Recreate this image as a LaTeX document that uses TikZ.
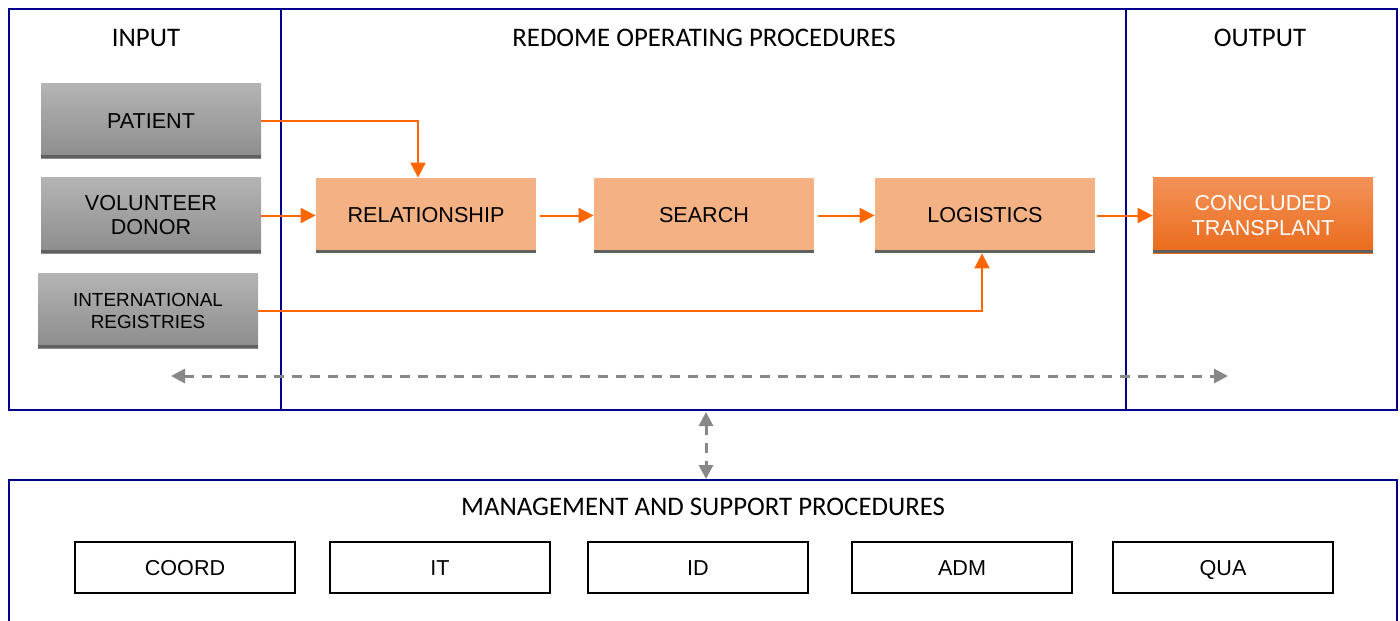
\documentclass[tikz,border=0pt]{standalone}
\usepackage{fontspec}
\setmainfont{Liberation Sans}
\newfontfamily\titlefont{Carlito}
\usetikzlibrary{arrows.meta}
\definecolor{navy}{RGB}{0,0,140}
\definecolor{orng}{RGB}{255,102,0}
\definecolor{lorng}{RGB}{244,177,131}
\definecolor{strip}{RGB}{96,96,96}
\definecolor{gtop}{RGB}{180,180,180}
\definecolor{gbot}{RGB}{140,140,140}
\definecolor{ctop}{RGB}{243,146,87}
\definecolor{cbot}{RGB}{234,107,28}
\definecolor{dgray}{RGB}{136,136,136}
\tikzset{
  basebox/.style={minimum width=110pt, minimum height=37.5pt, inner sep=0pt, align=center,
    font=\fontsize{10.8}{12}\selectfont,
    path picture={\fill[strip] (path picture bounding box.south west) rectangle ([yshift=1.6pt]path picture bounding box.south east);}},
  graybox/.style={basebox, top color=gtop, bottom color=gbot},
  procbox/.style={basebox, fill=lorng},
  outbox/.style={basebox, top color=ctop, bottom color=cbot, text=white},
  supbox/.style={draw=black, line width=1pt, minimum width=110pt, minimum height=25.5pt, inner sep=0pt, text height=7.8pt, text depth=0pt, font=\fontsize{10.8}{12}\selectfont},
  frame/.style={draw=navy, line width=1.35pt},
  title/.style={font=\titlefont\fontsize{13.4}{15}\selectfont},
  oarrow/.style={draw=orng, line width=1pt, -{Triangle[length=7.5pt,width=7.5pt]}},
  garrow/.style={draw=dgray, line width=1.5pt, dash pattern=on 5pt off 4pt, {Triangle[length=7pt,width=7pt]}-{Triangle[length=7pt,width=7pt]}}
}
\begin{document}
\begin{tikzpicture}[x=0.5pt,y=-0.5pt]
\useasboundingbox (0,0) rectangle (1400,620);
% frames
\draw[frame] (9,9) rectangle (1397,410);
\draw[frame] (281,9) -- (281,410);
\draw[frame] (1126,9) -- (1126,410);
\draw[frame] (9,480) rectangle (1397,660);
% titles
\node[title] (tin) at (146,38) {INPUT};
\node[title] (tproc) at (704,38) {REDOME OPERATING PROCEDURES};
\node[title] (tout) at (1260,38) {OUTPUT};
\node[title] (tsup) at (703,507) {MANAGEMENT AND SUPPORT PROCEDURES};
% input boxes
\node[graybox] (pat) at (151,121) {PATIENT};
\node[graybox, font=\fontsize{10.8}{12}\selectfont] (vol) at (151,215.5) {VOLUNTEER\\DONOR};
\node[graybox, font=\fontsize{9.45}{11}\selectfont] (int) at (148,310.5) {INTERNATIONAL\\REGISTRIES};
% process boxes
\node[procbox] (rel) at (426,215.5) {RELATIONSHIP};
\node[procbox] (sea) at (704,215.5) {SEARCH};
\node[procbox] (log) at (985,215.5) {LOGISTICS};
\node[outbox, font=\fontsize{10.8}{12.5}\selectfont] (con) at (1263,215.5) {CONCLUDED\\TRANSPLANT};
% support boxes
\node[supbox] (coord) at (185,567.5) {COORD};
\node[supbox] (it) at (440,567.5) {IT};
\node[supbox] (id) at (698,567.5) {ID};
\node[supbox] (adm) at (962,567.5) {ADM};
\node[supbox] (qua) at (1223,567.5) {QUA};
% arrows
\draw[oarrow] (pat.east) -| ([xshift=-4pt]rel.north);
\draw[oarrow] (vol.east) -- (rel.west);
\draw[oarrow] ([xshift=2pt]rel.east) -- (sea.west);
\draw[oarrow] ([xshift=2pt]sea.east) -- (log.west);
\draw[oarrow] ([xshift=1pt]log.east) -- (con.west);
\draw[oarrow] (int.east) -| ([xshift=-1.5pt]log.south);
% dashed
\coordinate (dl) at (171,376);
\coordinate (dr) at (1228,376);
\coordinate (vt) at (706,412);
\coordinate (vb) at (706,479);
\draw[garrow] (dl) -- (dr);
\draw[garrow] (vt) -- (vb);
\end{tikzpicture}
\end{document}
